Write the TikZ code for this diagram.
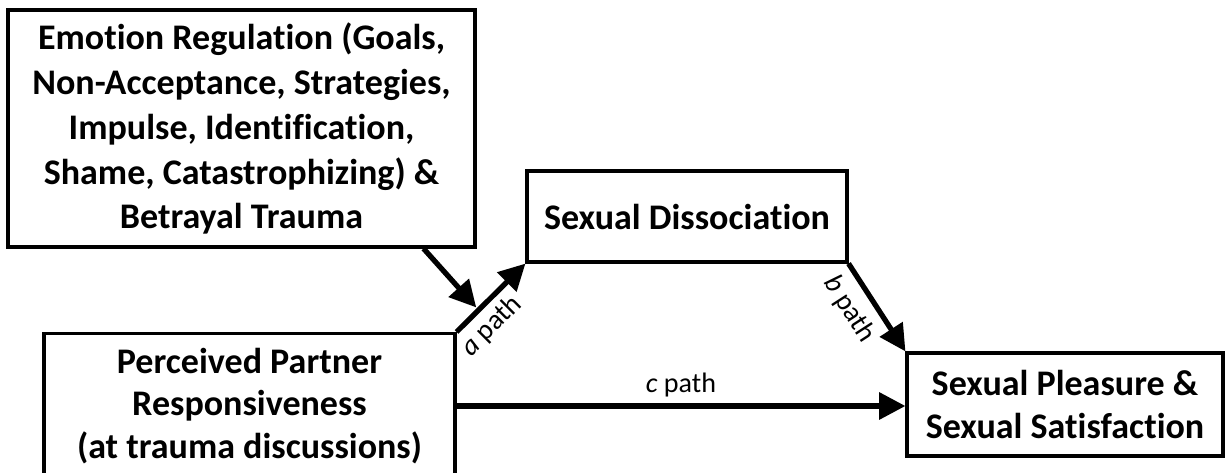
\documentclass[tikz,border=0pt]{standalone}
\usepackage{fontspec}
\setmainfont{Carlito}[Ligatures=NoCommon]
\usetikzlibrary{arrows.meta}

\tikzset{
  varbox/.style={draw, line width=1.8pt, align=center, inner sep=0pt,
    font=\fontsize{20.5}{24.3}\selectfont\bfseries},
  patharrow/.style={line width=3pt, -{Triangle[length=15pt, width=15pt]}},
  pathlabel/.style={font=\fontsize{16}{19}\selectfont}
}

\begin{document}
\begin{tikzpicture}[x=0.02cm, y=-0.02cm]
  \useasboundingbox (0,0) rectangle (1225,473);
  % variables
  \node [varbox, minimum width=9.34cm, minimum height=4.74cm,
    font=\fontsize{20.5}{25.6}\selectfont\bfseries] (er) at (241.5,128.5)
    {Emotion Regulation (Goals,\\ Non-Acceptance, Strategies,\\ Impulse, Identification,\\ Shame, Catastrophizing) \&\\ Betrayal Trauma};
  \node [varbox, minimum width=6.4cm, minimum height=1.82cm] (sd) at (687,216.5) {Sexual Dissociation};
  \node [varbox, minimum width=8.22cm, minimum height=2.9cm] (ppr) at (249.5,406)
    {Perceived Partner\\ Responsiveness\\ (at trauma discussions)};
  \node [varbox, minimum width=6.32cm, minimum height=2.06cm] (out) at (1065,404.5)
    {Sexual Pleasure \&\\ Sexual Satisfaction};
  % paths
  \draw [patharrow] (ppr.north east) -- node[pathlabel, sloped, pos=0.3, below] {\textit{a} path}
    coordinate[pos=0.32] (amid) (sd.south west);
  \coordinate (erfoot) at ([xshift=-1.06cm]er.south east);
  \draw [patharrow, shorten >=2pt] (erfoot) -- (amid);
  \draw [patharrow] (sd.south east) -- node[pathlabel, sloped, pos=0.37, below=2pt] {\textit{b} path} (out.north west);
  \draw [patharrow] (ppr.east) -- node[pathlabel, midway, above] {\textit{c} path} (ppr.east -| out.west);
\end{tikzpicture}
\end{document}
